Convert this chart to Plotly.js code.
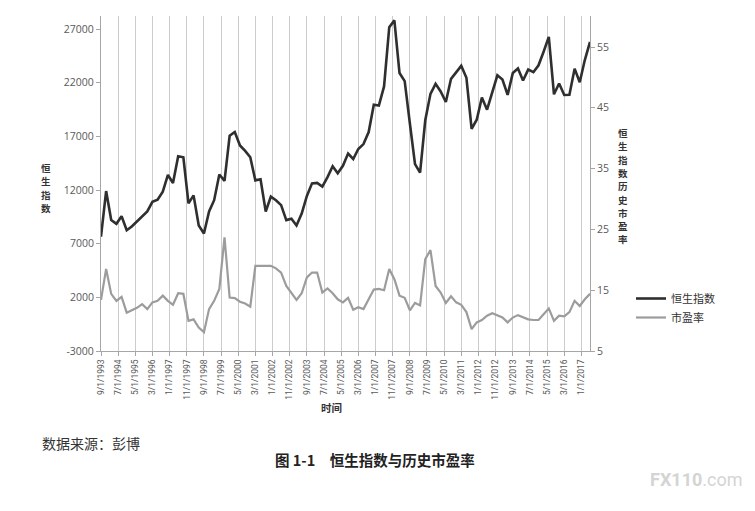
<!DOCTYPE html>
<html>
<head>
<meta charset="utf-8">
<script src="https://cdn.plot.ly/plotly-3.0.1.min.js"></script>
<style>html,body{margin:0;padding:0;background:#fff;}#chart{width:755px;height:511px;}</style>
</head>
<body>
<div id="chart"></div>
<script>
// Quarterly observation dates
const dates = [
'1993-09','1993-12',
'1994-03','1994-06','1994-09','1994-12',
'1995-03','1995-06','1995-09','1995-12',
'1996-03','1996-06','1996-09','1996-12',
'1997-03','1997-06','1997-09','1997-12',
'1998-03','1998-06','1998-09','1998-12',
'1999-03','1999-06','1999-09','1999-12',
'2000-03','2000-06','2000-09','2000-12',
'2001-03','2001-06','2001-09','2001-12',
'2002-03','2002-06','2002-09','2002-12',
'2003-03','2003-06','2003-09','2003-12',
'2004-03','2004-06','2004-09','2004-12',
'2005-03','2005-06','2005-09','2005-12',
'2006-03','2006-06','2006-09','2006-12',
'2007-03','2007-06','2007-09','2007-12',
'2008-03','2008-06','2008-09','2008-12',
'2009-03','2009-06','2009-09','2009-12',
'2010-03','2010-06','2010-09','2010-12',
'2011-03','2011-06','2011-09','2011-12',
'2012-03','2012-06','2012-09','2012-12',
'2013-03','2013-06','2013-09','2013-12',
'2014-03','2014-06','2014-09','2014-12',
'2015-03','2015-06','2015-09','2015-12',
'2016-03','2016-06','2016-09','2016-12',
'2017-03','2017-06'
];

// 恒生指数 (left axis)
const hsi = [
7650,11900,
9200,8850,9550,8250,
8600,9050,9500,10000,
10900,11100,11850,13400,
12650,15150,15050,10750,
11500,8700,7950,10000,
11050,13450,12850,17050,
17400,16150,15650,15050,
12900,13000,10000,11380,
11050,10590,9200,9330,
8700,9800,11450,12620,
12660,12320,13200,14220,
13560,14250,15400,14890,
15820,16280,17400,19950,
19870,21650,27170,27810,
22900,22150,18200,14420,
13620,18500,20960,21890,
21180,20200,22360,22980,
23570,22460,17700,18550,
20620,19480,21000,22690,
22300,20860,22900,23320,
22200,23220,22980,23620,
24890,26270,20920,21920,
20860,20870,23310,22040,
24110,25800
];

// 市盈率 (right axis)
const pe = [
13.4,18.5,
14.4,13.25,13.9,11.3,
11.7,12.1,12.7,11.9,
13.0,13.25,14.1,13.25,
12.6,14.5,14.4,9.95,
10.2,8.85,8.1,11.9,
13.25,15.2,23.7,13.8,
13.7,13.1,12.8,12.3,
19.0,19.0,19.0,19.0,
18.6,17.9,15.7,14.6,
13.4,14.5,17.1,17.9,
17.9,14.6,15.3,14.5,
13.5,13.0,13.75,11.8,
12.2,11.9,13.5,15.1,
15.2,15.0,18.5,16.8,
14.1,13.75,11.7,12.9,
12.5,20.1,21.6,15.7,
14.6,12.9,14.0,13.0,
12.6,11.4,8.6,9.7,
10.1,10.8,11.2,10.9,
10.5,9.7,10.5,10.9,
10.5,10.2,10.1,10.1,
11.05,12.0,9.95,10.8,
10.7,11.4,13.25,12.4,
13.5,14.4
];

const tickDates = ['1993-09-01','1994-07-01','1995-05-01','1996-03-01','1997-01-01','1997-11-01','1998-09-01','1999-07-01','2000-05-01','2001-03-01','2002-01-01','2002-11-01','2003-09-01','2004-07-01','2005-05-01','2006-03-01','2007-01-01','2007-11-01','2008-09-01','2009-07-01','2010-05-01','2011-03-01','2012-01-01','2012-11-01','2013-09-01','2014-07-01','2015-05-01','2016-03-01','2017-01-01'];
const tickLabels = ['9/1/1993','7/1/1994','5/1/1995','3/1/1996','1/1/1997','11/1/1997','9/1/1998','7/1/1999','5/1/2000','3/1/2001','1/1/2002','11/1/2002','9/1/2003','7/1/2004','5/1/2005','3/1/2006','1/1/2007','11/1/2007','9/1/2008','7/1/2009','5/1/2010','3/1/2011','1/1/2012','11/1/2012','9/1/2013','7/1/2014','5/1/2015','3/1/2016','1/1/2017'];
const leftTicks = [-3000,2000,7000,12000,17000,22000,27000];
const leftTickLabels = ['-3000','2000','7000','12000','17000','22000','27000'];
const rightTicks = [5,15,25,35,45,55];
const rightTickLabels = ['5','15','25','35','45','55'];

// layout geometry (pixels)
const W = 755, H = 511;
const M = {l:101, r:165, t:16, b:160};
const PW = W - M.l - M.r, PH = H - M.t - M.b;
const px = x => (x - M.l) / PW;
const py = y => (H - M.b - y) / PH;

const axisCol = '#a6a6a6';
const tickCol = '#595959';
const cjk = '"Noto Sans CJK SC", "Noto Sans", sans-serif';

const traces = [
  {x: dates, y: hsi, name: '恒生指数', type: 'scatter', mode: 'lines',
   line: {color: '#2f2f2f', width: 2.6}, yaxis: 'y'},
  {x: dates, y: pe, name: '市盈率', type: 'scatter', mode: 'lines',
   line: {color: '#9c9c9c', width: 2.2}, yaxis: 'y2'}
];

// vertical (stacked) axis titles, one character per annotation
function stacked(str, xc, yTop, pitch) {
  return Array.from(str).map((ch, i) => ({
    text: ch, xref: 'paper', yref: 'paper', x: px(xc), y: py(yTop + i * pitch),
    xanchor: 'center', yanchor: 'middle', showarrow: false, borderpad: 0,
    font: {family: cjk, size: 9.5, color: '#333', weight: 'bold'}
  }));
}

const annotations = [].concat(
  stacked('恒生指数', 46, 168, 13.3),
  stacked('恒生指数历史市盈率', 623, 133, 13.3),
  [
    {text: '时间', xref: 'paper', yref: 'paper', x: px(331), y: py(417),
     showarrow: false, font: {family: cjk, size: 10.5, color: '#333', weight: 'bold'}},
    {text: '数据来源：彭博', xref: 'paper', yref: 'paper', x: px(40), y: py(455), xanchor: 'left',
     showarrow: false, font: {family: cjk, size: 14, color: '#333'}},
    {text: '图 1-1　恒生指数与历史市盈率', xref: 'paper', yref: 'paper', x: px(375), y: py(472),
     showarrow: false, font: {family: cjk, size: 14.5, color: '#222', weight: 'bold'}},
    {text: '<b>FX110</b>.com', xref: 'paper', yref: 'paper', x: px(745), y: py(492), xanchor: 'right',
     showarrow: false, font: {family: 'Roboto, sans-serif', size: 18, color: '#d4d4d4'}}
  ]
);

const layout = {
  width: W, height: H,
  margin: M,
  paper_bgcolor: '#ffffff', plot_bgcolor: '#ffffff',
  showlegend: true,
  legend: {x: px(631), y: py(284), xanchor: 'left', yanchor: 'top',
           font: {family: cjk, size: 11, color: '#333'},
           bgcolor: 'rgba(0,0,0,0)', tracegroupgap: 0, itemwidth: 30},
  xaxis: {type: 'date', range: ['1993-09-01', '2017-06-01'],
          tickmode: 'array', tickvals: tickDates, ticktext: tickLabels,
          tickangle: -90, tickfont: {family: 'Roboto', size: 8.5, color: tickCol},
          showgrid: true, gridcolor: '#cccccc', gridwidth: 1,
          showline: true, linecolor: axisCol, linewidth: 1,
          ticks: 'outside', ticklen: 4, tickcolor: axisCol, zeroline: false},
  yaxis: {range: [-3000, 28215], tickmode: 'array', tickvals: leftTicks, ticktext: leftTickLabels,
          tickfont: {family: '"Open Sans", sans-serif', size: 10.5, color: tickCol},
          showgrid: false, showline: true, linecolor: axisCol, linewidth: 1,
          ticks: 'outside', ticklen: 4, tickcolor: axisCol, zeroline: false},
  yaxis2: {range: [5, 60.1], overlaying: 'y', side: 'right', tickmode: 'array',
          tickvals: rightTicks, ticktext: rightTickLabels,
          tickfont: {family: '"Open Sans", sans-serif', size: 10.5, color: tickCol},
          showgrid: false, showline: true, linecolor: axisCol, linewidth: 1,
          ticks: 'outside', ticklen: 4, tickcolor: axisCol, zeroline: false},
  annotations: annotations
};

Plotly.newPlot('chart', traces, layout, {displayModeBar: false, staticPlot: true});
</script>
</body>
</html>
